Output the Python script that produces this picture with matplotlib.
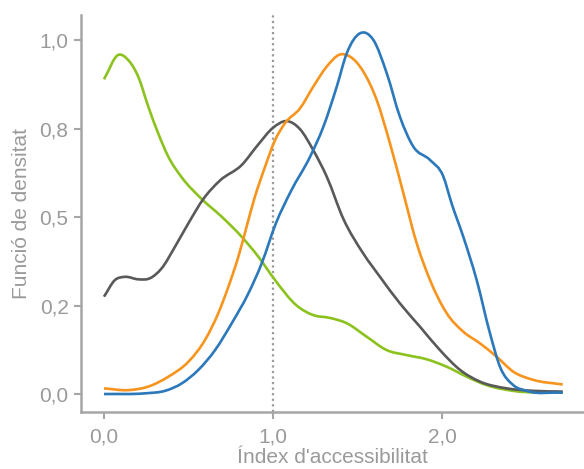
import matplotlib
matplotlib.use("Agg")
import matplotlib.pyplot as plt
from matplotlib.path import Path
from matplotlib.patches import PathPatch

plt.rcParams['font.family'] = ['Liberation Sans', 'DejaVu Sans']

green_x = [0.0, 0.085, 0.144, 0.203, 0.262, 0.321, 0.381, 0.46, 0.578, 0.696, 0.815, 0.913, 1.012, 1.14, 1.238, 1.337, 1.436, 1.554, 1.673, 1.791, 1.91, 2.028, 2.146, 2.264, 2.42, 2.714]
green_y = [0.889, 0.958, 0.943, 0.896, 0.812, 0.736, 0.670, 0.612, 0.551, 0.501, 0.444, 0.388, 0.322, 0.250, 0.223, 0.215, 0.200, 0.162, 0.124, 0.110, 0.098, 0.077, 0.049, 0.025, 0.009, 0.004]

gray_x = [0.0, 0.065, 0.124, 0.203, 0.272, 0.341, 0.42, 0.499, 0.588, 0.686, 0.815, 0.913, 1.0, 1.081, 1.16, 1.238, 1.318, 1.416, 1.534, 1.633, 1.751, 1.87, 1.988, 2.107, 2.225, 2.383, 2.54, 2.714]
gray_y = [0.275, 0.322, 0.331, 0.324, 0.327, 0.355, 0.416, 0.482, 0.551, 0.603, 0.647, 0.705, 0.752, 0.771, 0.748, 0.689, 0.614, 0.495, 0.397, 0.331, 0.256, 0.190, 0.124, 0.068, 0.035, 0.016, 0.009, 0.007]

orange_x = [0.0, 0.144, 0.262, 0.381, 0.499, 0.598, 0.676, 0.736, 0.795, 0.844, 0.889, 0.953, 1.012, 1.071, 1.16, 1.238, 1.318, 1.396, 1.456, 1.534, 1.613, 1.692, 1.766, 1.85, 1.929, 2.028, 2.126, 2.225, 2.324, 2.422, 2.54, 2.714]
orange_y = [0.016, 0.011, 0.021, 0.049, 0.091, 0.153, 0.228, 0.303, 0.388, 0.473, 0.551, 0.642, 0.717, 0.765, 0.807, 0.868, 0.925, 0.959, 0.953, 0.911, 0.831, 0.708, 0.577, 0.426, 0.322, 0.228, 0.176, 0.143, 0.105, 0.063, 0.040, 0.027]

blue_x = [0.0, 0.243, 0.361, 0.46, 0.558, 0.657, 0.756, 0.854, 0.933, 1.017, 1.105, 1.219, 1.298, 1.377, 1.436, 1.515, 1.594, 1.673, 1.751, 1.83, 1.929, 2.008, 2.057, 2.126, 2.205, 2.284, 2.343, 2.422, 2.50, 2.714]
blue_y = [0.0, 0.002, 0.009, 0.030, 0.068, 0.124, 0.200, 0.284, 0.369, 0.482, 0.572, 0.670, 0.755, 0.868, 0.962, 1.019, 1.000, 0.906, 0.783, 0.699, 0.661, 0.614, 0.538, 0.444, 0.322, 0.171, 0.077, 0.025, 0.009, 0.004]

xticks = [0, 1, 2]
xtick_labels = ['0,0', '1,0', '2,0']
yticks = [0, 0.25, 0.5, 0.75, 1.0]
ytick_labels = ['0,0', '0,2', '0,5', '0,8', '1,0']

axis_col = '#a6a6a6'
text_col = '#9a9a9a'


def smooth_path(xs, ys):
    """Smooth curve y(x) through the given points, drawn as cubic Bezier segments."""
    n = len(xs)
    h = [xs[i + 1] - xs[i] for i in range(n - 1)]
    d = [(ys[i + 1] - ys[i]) / h[i] for i in range(n - 1)]
    m = [0.0] * n
    m[0] = d[0]
    m[-1] = d[-1]
    for i in range(1, n - 1):
        m[i] = (d[i - 1] * h[i] + d[i] * h[i - 1]) / (h[i - 1] + h[i])
    verts = [(xs[0], ys[0])]
    codes = [Path.MOVETO]
    for i in range(n - 1):
        c1 = (xs[i] + h[i] / 3.0, ys[i] + m[i] * h[i] / 3.0)
        c2 = (xs[i + 1] - h[i] / 3.0, ys[i + 1] - m[i + 1] * h[i] / 3.0)
        verts += [c1, c2, (xs[i + 1], ys[i + 1])]
        codes += [Path.CURVE4] * 3
    return Path(verts, codes)


fig = plt.figure(figsize=(5.84, 4.69), dpi=100)
ax = fig.add_axes([0.1387, 0.1215, 0.8613, 0.8465])

ax.axvline(1.0, color='#9a9a9a', linestyle=(0, (1, 1.5)), linewidth=1.6, zorder=1)

lw = 1.9
for xs, ys, col in [(green_x, green_y, '#8cc21e'),
                    (gray_x, gray_y, '#595959'),
                    (orange_x, orange_y, '#f7941d'),
                    (blue_x, blue_y, '#2b78bb')]:
    ax.add_patch(PathPatch(smooth_path(xs, ys), facecolor='none', edgecolor=col,
                           lw=lw, capstyle='butt', zorder=2))

ax.set_xlim(-0.136, 2.84)
ax.set_ylim(-0.0508, 1.0706)

for s in ['top', 'right']:
    ax.spines[s].set_visible(False)
for s in ['left', 'bottom']:
    ax.spines[s].set_color(axis_col)
    ax.spines[s].set_linewidth(1.8)

ax.set_xticks(xticks)
ax.set_xticklabels(xtick_labels)
ax.set_yticks(yticks)
ax.set_yticklabels(ytick_labels)
ax.tick_params(axis='both', colors=axis_col, labelcolor=text_col, labelsize=15,
               length=5, width=1.5, direction='out')
ax.tick_params(axis='x', pad=6)
ax.tick_params(axis='y', pad=4)

ax.set_xlabel("Índex d'accessibilitat", color=text_col, fontsize=15, labelpad=1)
ax.set_ylabel("Funció de densitat", color=text_col, fontsize=15, labelpad=6)

fig.savefig('out.png', dpi=100)
